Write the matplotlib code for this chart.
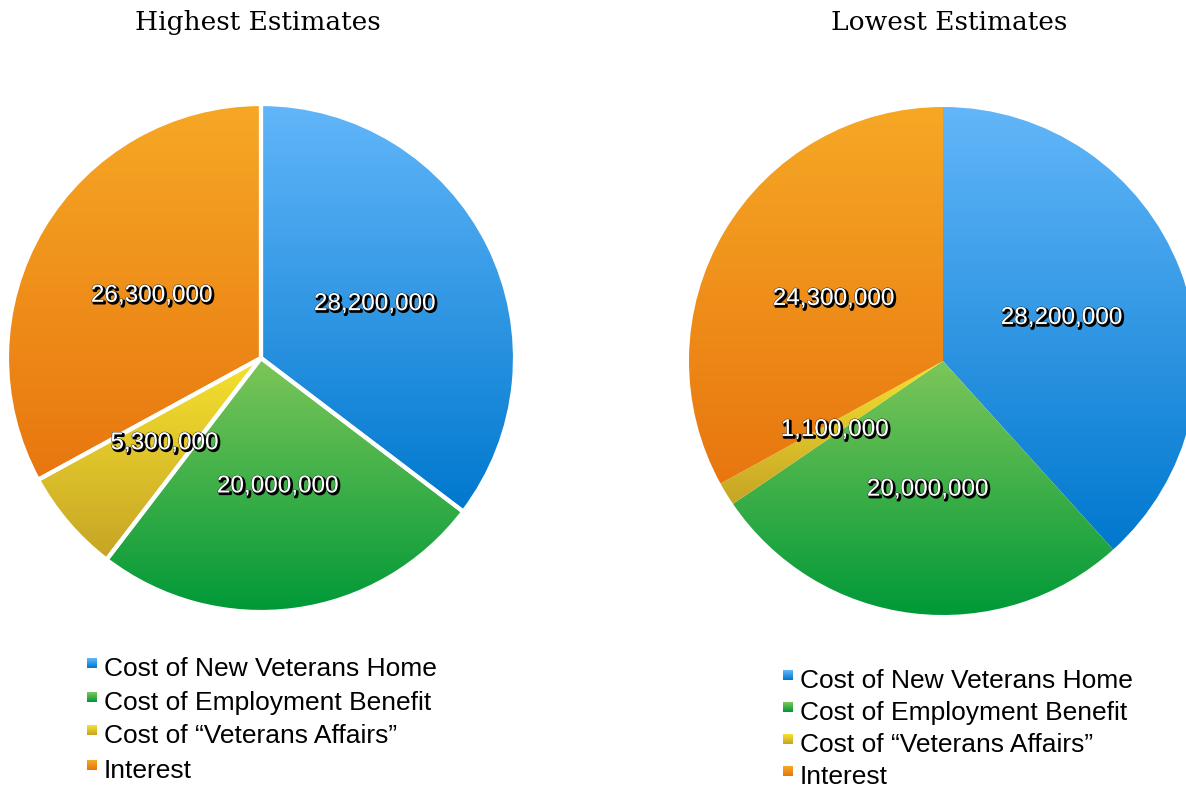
import numpy as np
import matplotlib
matplotlib.use("Agg")
import matplotlib.pyplot as plt
from matplotlib import patheffects as pe
from matplotlib.colors import LinearSegmentedColormap

categories = ["Cost of New Veterans Home", "Cost of Employment Benefit",
              "Cost of \u201cVeterans Affairs\u201d", "Interest"]
highest = [28_200_000, 20_000_000, 5_300_000, 26_300_000]
lowest = [28_200_000, 20_000_000, 1_100_000, 24_300_000]
titles = ["Highest Estimates", "Lowest Estimates"]

# light (top) and dark (bottom) end of each slice's vertical gradient
grad_top = ["#62b6f9", "#7dc659", "#f6e22e", "#f6a825"]
grad_bottom = ["#0078ce", "#009938", "#c6a426", "#e8760f"]
cmaps = [LinearSegmentedColormap.from_list(f"g{i}", [t, b])
         for i, (t, b) in enumerate(zip(grad_top, grad_bottom))]

W, H = 1186, 789
fig = plt.figure(figsize=(W / 100, H / 100), dpi=100)
ax = fig.add_axes([0, 0, 1, 1])

label_fx = [pe.Stroke(linewidth=1.6, foreground="black", offset=(1.2, -1.2)),
            pe.Stroke(linewidth=0.6, foreground="#222222"),
            pe.Normal()]
grad = np.linspace(0, 1, 256).reshape(-1, 1)


def gradient_pie(values, center, radius, edge_lw):
    wedges, _, autotexts = ax.pie(
        values, radius=radius, center=center, startangle=90,
        counterclock=False, autopct="%1.1f", pctdistance=0.5,
        wedgeprops=dict(facecolor="none", edgecolor="white",
                        linewidth=edge_lw),
        textprops=dict(color="white", fontsize=17.5,
                       family=["Liberation Sans", "DejaVu Sans"]),
        frame=True)
    for t, v in zip(autotexts, values):
        t.set_text(f"{v:,}")
        t.set_va("center_baseline")
        t.set_path_effects(label_fx)
    for w, cm in zip(wedges, cmaps):
        angs = np.radians(np.linspace(w.theta1, w.theta2, 200))
        xs = np.r_[center[0], center[0] + radius * np.cos(angs)]
        ys = np.r_[center[1], center[1] + radius * np.sin(angs)]
        im = ax.imshow(grad, cmap=cm, origin="upper", aspect="auto",
                       interpolation="bilinear",
                       extent=(xs.min(), xs.max(), ys.min(), ys.max()),
                       zorder=0)
        im.set_clip_path(w)


def legend(x, ys):
    for y, name, cm in zip(ys, categories, cmaps):
        sq = np.linspace(0, 1, 16).reshape(-1, 1)
        ax.imshow(sq, cmap=cm, origin="upper", aspect="auto",
                  interpolation="bilinear",
                  extent=(x, x + 10, H - y + 1, H - y + 11), zorder=2)
        ax.text(x + 17, H - y, name, fontsize=19, color="black",
                va="center", ha="left",
                family=["Liberation Sans", "DejaVu Sans"])


gradient_pie(highest, (261, H - 358), 254, 3)
gradient_pie(lowest, (943, H - 361), 254, 0)

legend(87, [669, 703, 736, 771])
legend(783, [681, 713, 745, 777])

for x, title in zip([258, 949], titles):
    ax.text(x, H - 22, title, fontsize=19, ha="center", va="center",
            family=["DejaVu Serif"])

ax.set_xlim(0, W)
ax.set_ylim(0, H)
ax.axis("off")
fig.savefig("out.png", dpi=100)
